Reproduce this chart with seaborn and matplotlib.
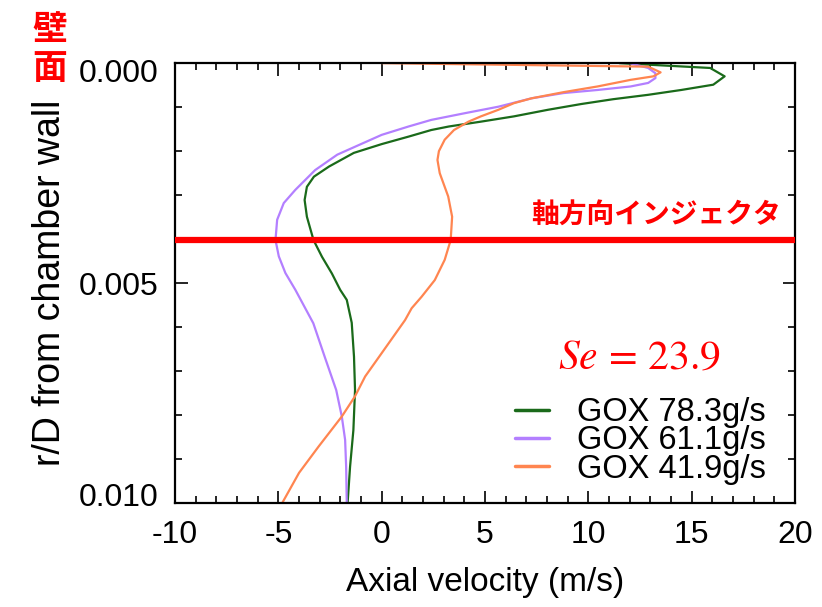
import numpy as np
import pandas as pd
import matplotlib
matplotlib.use("Agg")
import matplotlib.pyplot as plt
from matplotlib.ticker import MultipleLocator, FormatStrFormatter
from matplotlib.transforms import ScaledTranslation
import seaborn as sns

# r/D from chamber wall vs axial velocity (m/s)
r_783 = [0.0, 0.00011, 0.0003, 0.00049, 0.00061, 0.00072, 0.00082, 0.00093, 0.00106,
         0.00121, 0.00133, 0.00144, 0.00152, 0.00167, 0.00184, 0.00204, 0.00235, 0.00258,
         0.00281, 0.00311, 0.00349, 0.00402, 0.0044, 0.00478, 0.00515, 0.00538, 0.0059,
         0.00667, 0.00743, 0.00834, 0.00917, 0.010]
u_783 = [11.5, 15.9, 16.6, 16.05, 14.5, 12.9, 11.2, 9.65, 8.05,
         6.4, 4.8, 3.25, 2.4, 1.3, 0.0, -1.35, -2.55, -3.28,
         -3.62, -3.73, -3.62, -3.3, -2.89, -2.41, -2.01, -1.69, -1.45,
         -1.34, -1.29, -1.37, -1.53, -1.65]

r_611 = [0.0, 0.00011, 0.00023, 0.00034, 0.00045, 0.00053, 0.00061, 0.00068, 0.0008,
         0.00099, 0.00114, 0.00129, 0.00144, 0.00163, 0.00186, 0.00208, 0.00243, 0.00288,
         0.00318, 0.00356, 0.00402, 0.00439, 0.00477, 0.00515, 0.00591, 0.00667, 0.00743,
         0.00803, 0.00856, 0.00917, 0.010]
u_611 = [12.0, 12.9, 13.25, 13.25, 12.9, 12.05, 10.45, 8.8, 7.25,
         5.65, 4.0, 2.4, 1.3, 0.0, -1.1, -2.15, -3.22, -4.18,
         -4.74, -5.06, -5.14, -4.98, -4.66, -4.18, -3.31, -2.76, -2.2,
         -1.93, -1.77, -1.72, -1.69]

r_419 = [0.0, 0.00008, 0.00021, 0.0003, 0.00038, 0.00053, 0.00066, 0.0008, 0.00091,
         0.00106, 0.00121, 0.00133, 0.00152, 0.00174, 0.002, 0.0022, 0.0025, 0.00303,
         0.00349, 0.00402, 0.00447, 0.00493, 0.00531, 0.00557, 0.00584, 0.00659, 0.00712,
         0.00757, 0.00803, 0.00871, 0.00931, 0.010]
u_419 = [0.0, 12.9, 13.5, 13.15, 12.05, 10.45, 8.8, 7.25, 6.4,
         5.65, 4.8, 4.2, 3.5, 3.05, 2.77, 2.7, 2.81, 3.22,
         3.41, 3.34, 3.05, 2.57, 1.93, 1.45, 1.13, 0.0, -0.8,
         -1.29, -1.93, -3.05, -4.0, -4.82]

labels = ["GOX 78.3g/s", "GOX 61.1g/s", "GOX 41.9g/s"]
colors = ["#1a6a1a", "#b37fff", "#ff8550"]
injector_r = 0.00402

sns.set_style("ticks")
plt.rcParams["font.family"] = ["Liberation Sans", "Noto Sans CJK JP", "DejaVu Sans"]
plt.rcParams["axes.unicode_minus"] = False
plt.rcParams["mathtext.fontset"] = "stix"
plt.rcParams["text.color"] = "black"
plt.rcParams["axes.labelcolor"] = "black"
cjk = ["Noto Sans CJK JP", "DejaVu Sans"]

fig = plt.figure(figsize=(8.22, 6.07), dpi=100)
ax = fig.add_axes([0.213, 0.171, 0.754, 0.725])

for r, u, lab, c in zip([r_783, r_611, r_419], [u_783, u_611, u_419], labels, colors):
    df = pd.DataFrame({"u": u, "r": r})
    sns.lineplot(data=df, x="u", y="r", sort=False, estimator=None, color=c,
                 lw=1.6, label=lab, ax=ax)

ax.axhline(injector_r, color="#ff0000", lw=4.5, zorder=5)
ax.text(19.3, 0.00345, "軸方向インジェクタ", color="#ff0000", fontsize=20,
        fontweight="bold", ha="right", va="center", family=cjk)
ax.text(12.5, 0.00668, r"$Se\,=\,23.9$", color="#ff0000", fontsize=30,
        ha="center", va="center")

ax.set_xlim(-10, 20)
ax.set_ylim(0.010, 0.0)
ax.xaxis.set_major_locator(MultipleLocator(5))
ax.xaxis.set_minor_locator(MultipleLocator(1))
ax.yaxis.set_major_locator(MultipleLocator(0.005))
ax.yaxis.set_minor_locator(MultipleLocator(0.001))
ax.yaxis.set_major_formatter(FormatStrFormatter("%.3f"))
ax.tick_params(which="both", direction="in", top=True, right=True, width=1.2,
               labelsize=23, colors="black")
ax.tick_params(which="major", length=9, pad=12)
ax.tick_params(which="minor", length=5)
for s in ax.spines.values():
    s.set_linewidth(1.6)
    s.set_color("black")

ax.set_xlabel("Axial velocity (m/s)", fontsize=24, labelpad=12)
ax.set_ylabel("r/D from chamber wall", fontsize=27, labelpad=8)

leg = ax.legend(loc="lower right", bbox_to_anchor=(0.99, -0.01), frameon=False,
                fontsize=23.5, labelspacing=-0.08, handlelength=1.05,
                handletextpad=0.85, borderpad=0.2)
for h in leg.get_lines():
    h.set_linewidth(2.5)
for t in leg.get_texts():
    t.set_color("black")

fig.text(50 / 822, 1 - 30 / 607, "壁", color="#ff0000", fontsize=25,
         fontweight="bold", ha="center", va="center", family=cjk)
fig.text(50 / 822, 1 - 68 / 607, "面", color="#ff0000", fontsize=25,
         fontweight="bold", ha="center", va="center", family=cjk)

# nudge end labels inward like the original
fig.canvas.draw()
for t in ax.get_yticklabels():
    if t.get_text() == "0.000":
        t.set_transform(t.get_transform() + ScaledTranslation(0, -5 / 72, fig.dpi_scale_trans))
    elif t.get_text() == "0.010":
        t.set_transform(t.get_transform() + ScaledTranslation(0, 6 / 72, fig.dpi_scale_trans))

fig.savefig("out.png", dpi=100)
